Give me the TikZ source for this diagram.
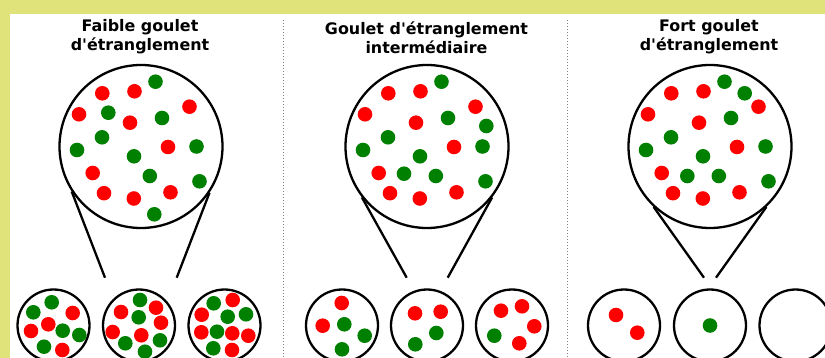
\documentclass[tikz,border=0pt]{standalone}
\usepackage{fontspec}
\setmainfont{DejaVu Sans}[Ligatures=TeXOff]
\definecolor{rouge}{RGB}{255,0,0}
\definecolor{vert}{RGB}{0,128,0}
\definecolor{fond}{RGB}{223,227,121}
\newcommand{\billes}[4]{%
  \foreach \dx/\dy in {#4}{\fill[#1] ({#2+\dx},{#3+\dy}) circle (7.3);}%
}

\begin{document}
\begin{tikzpicture}[x=1pt,y=-1pt,
  pop/.style={circle,draw,line width=2.3pt,inner sep=0pt},
  grand/.style={pop,minimum size=163pt},
  petit/.style={pop,minimum size=72pt},
  titre/.style={align=center,anchor=base,inner sep=0pt,font=\bfseries\fontsize{15.9}{19}\selectfont},
  trait/.style={line width=2.3pt}]
  \useasboundingbox (0,0) rectangle (825,358);
  \fill[fond] (0,0) rectangle (825,358);
  \fill[white] (10,14) rectangle (825,358);
  \draw[gray,dotted,line width=1pt] (283,20) -- (283,358);
  \draw[gray,dotted,line width=1pt] (567,20) -- (567,358);

  \node[titre] (t1) at (140,50.7) {Faible goulet\\d'étranglement};
  \node[titre] (t2) at (426.5,53.5) {Goulet d'étranglement\\intermédiaire};
  \node[titre] (t3) at (709,50.7) {Fort goulet\\d'étranglement};

  \node[grand] (g1) at (141,146.5) {};
  \node[grand] (g2) at (427,146.5) {};
  \node[grand] (g3) at (710,146.5) {};
  \foreach \i/\cx in {1/53.5,2/139,3/224.5} \node[petit] (p1\i) at (\cx,325.5) {};
  \foreach \i/\cx in {1/342,2/427,3/512} \node[petit] (p2\i) at (\cx,325.5) {};
  \foreach \i/\cx in {1/624,2/710,3/795.5} \node[petit] (p3\i) at (\cx,325.5) {};

  \coordinate (b1g) at (105,277.7); \coordinate (b1d) at (176.7,277.7);
  \coordinate (b2g) at (406.7,277.7); \coordinate (b2d) at (447.7,277.7);
  \coordinate (b3g) at (704,277.7); \coordinate (b3d) at (716,277.7);
  \draw[trait] (g1.213) -- (b1g); \draw[trait] (g1.326) -- (b1d);
  \draw[trait] (g2.218) -- (b2g); \draw[trait] (g2.322) -- (b2d);
  \draw[trait] (g3.227) -- (b3g); \draw[trait] (g3.313) -- (b3d);

  \foreach \cx in {141,427,710}{
    \billes{rouge}{\cx}{146.5}{-38.7/-53.2,-6.5/-55.2,48.5/-39.8,-62/-32.2,-11/-23.8,27/0.5,-48.3/26.5,-37/46.7,-7.2/52,29.5/45.8}
    \billes{vert}{\cx}{146.5}{14.5/-64.8,21/-28.5,-39/-9.2,-64/3.5,55.5/0,-7/9.8,8.8/29.5,58.5/34.8}
  }
  \billes{vert}{141}{146.5}{-32.7/-33.8,13.3/67.8}
  \billes{vert}{427}{146.5}{59.3/-20.5,-23/27.2}
  \billes{vert}{710}{146.5}{34.7/-53.2,-22.7/29.5}

  \billes{vert}{53.5}{325.5}{-1.8/-23.2,-20.2/-13.2,9.2/5.2,25.8/9.5,-9.5/21.2}
  \billes{rouge}{53.5}{325.5}{19.2/-12.5,-5.2/-1.2,-22.5/5.5,8.8/24.5}
  \billes{vert}{139}{325.5}{1/-25.5,-0.3/-8.2,21/14.8,-13.7/17.8,6/26.2}
  \billes{rouge}{139}{325.5}{-18/-13.5,17/-17.8,22/-2.8,-26.3/6.5,2.3/9.8}
  \billes{vert}{224.5}{325.5}{-10.8/-22.2,3.2/-8.8,21.5/-11.2,-7.5/6.2,-11.2/22.8}
  \billes{rouge}{224.5}{325.5}{8.2/-25.5,-22.8/-10.8,-23.2/6.8,7.8/7.8,23.8/10.2,7.5/24.5}

  \billes{rouge}{342}{325.5}{-0.3/-22.5,-19.3/0.2}
  \billes{vert}{342}{325.5}{2.3/-1.2,22.7/10.2,0/23.8}
  \billes{rouge}{427}{325.5}{-12/-12.2,13.7/-13.8}
  \billes{vert}{427}{325.5}{9.3/7.5,-11.7/18.8}
  \billes{rouge}{512}{325.5}{-11/-14.8,10/-19.2,22.3/0.8,7.3/17.8}
  \billes{vert}{512}{325.5}{-17.7/10.2}

  \billes{rouge}{624}{325.5}{-8/-10.5,13.3/7.2}
  \billes{vert}{710}{325.5}{0/0}
\end{tikzpicture}
\end{document}
